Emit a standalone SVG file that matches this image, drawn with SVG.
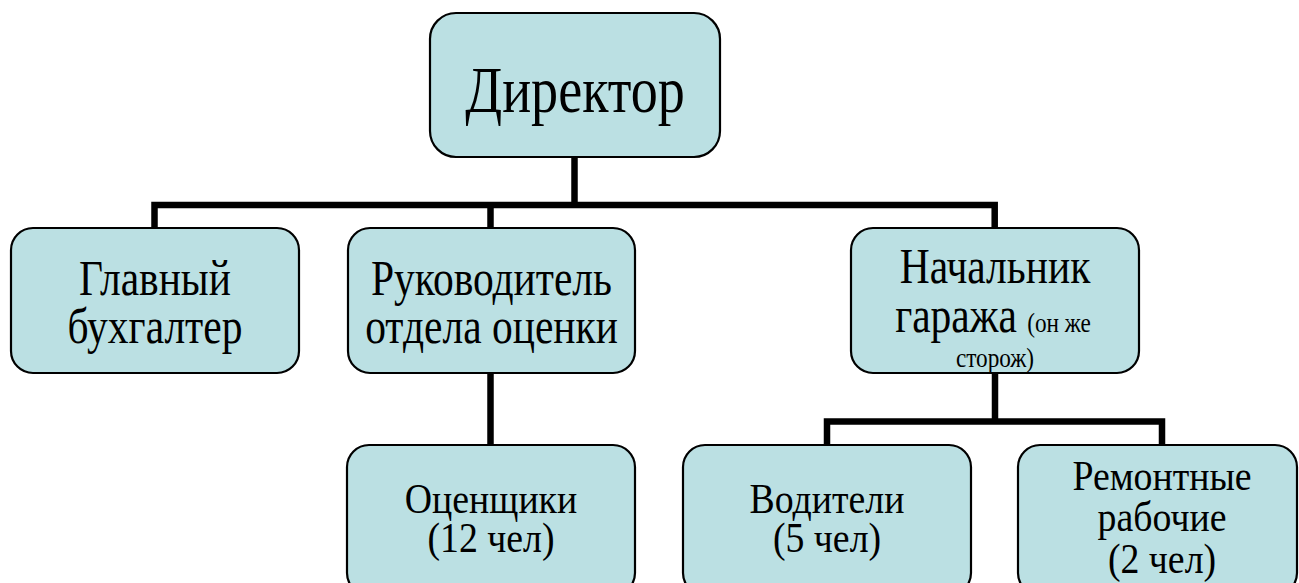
<svg xmlns="http://www.w3.org/2000/svg" width="1299" height="583" viewBox="0 0 1299 583">
<style>
.box{fill:#BBE0E3;stroke:#000;stroke-width:2.2}
.t{font-family:"Liberation Serif","Times New Roman","DejaVu Serif",serif;fill:#000;text-anchor:middle}
.conn{fill:none;stroke:#000;stroke-width:6.5;stroke-linejoin:miter;stroke-linecap:butt}
</style>
<rect x="0" y="0" width="1299" height="583" fill="#fff"/>
<g id="connectors">
<path class="conn" d="M574.5 157 V205"/>
<path class="conn" d="M154.5 228 V205 H994.7 V228"/>
<path class="conn" d="M490.5 205 V228"/>
<path class="conn" d="M490.5 373 V445"/>
<path class="conn" d="M995 373 V421.5"/>
<path class="conn" d="M827 445 V421.5 H1162 V445"/>
</g>
<g id="director">
<rect class="box" x="430" y="13" width="290" height="144" rx="26"/>
<text class="t" font-family="Liberation Serif, serif" font-size="66" transform="translate(575,112) scale(0.82,1)">Директор</text>
</g>
<g id="chief-accountant">
<rect class="box" x="11" y="228" width="288" height="145" rx="22"/>
<text class="t" font-family="Liberation Serif, serif" font-size="50" transform="translate(155,295) scale(0.83,1)">Главный</text>
<text class="t" font-family="Liberation Serif, serif" font-size="50" transform="translate(155,343) scale(0.83,1)">бухгалтер</text>
</g>
<g id="head-appraisal">
<rect class="box" x="348" y="228" width="287" height="145" rx="22"/>
<text class="t" font-family="Liberation Serif, serif" font-size="50" transform="translate(491.5,295) scale(0.83,1)">Руководитель</text>
<text class="t" font-family="Liberation Serif, serif" font-size="50" transform="translate(491.5,343) scale(0.83,1)">отдела оценки</text>
</g>
<g id="garage-head">
<rect class="box" x="851" y="228" width="288" height="145" rx="22"/>
<text class="t" font-family="Liberation Serif, serif" font-size="50" transform="translate(995,283) scale(0.83,1)">Начальник</text>
<text class="t" font-family="Liberation Serif, serif" font-size="50" transform="translate(993,332) scale(0.83,1)">гаража <tspan font-size="28">(он же</tspan></text>
<text class="t" font-family="Liberation Serif, serif" font-size="28" transform="translate(995,367) scale(0.83,1)">сторож)</text>
</g>
<g id="appraisers">
<rect class="box" x="347" y="445" width="288" height="150" rx="22"/>
<text class="t" font-family="Liberation Serif, serif" font-size="42" transform="translate(491,513) scale(0.9,1)">Оценщики</text>
<text class="t" font-family="Liberation Serif, serif" font-size="42" transform="translate(491,552) scale(0.9,1)">(12 чел)</text>
</g>
<g id="drivers">
<rect class="box" x="683" y="445" width="288" height="150" rx="22"/>
<text class="t" font-family="Liberation Serif, serif" font-size="42" transform="translate(827,513) scale(0.9,1)">Водители</text>
<text class="t" font-family="Liberation Serif, serif" font-size="42" transform="translate(827,552) scale(0.9,1)">(5 чел)</text>
</g>
<g id="repair-workers">
<rect class="box" x="1018" y="445" width="279" height="150" rx="22"/>
<text class="t" font-family="Liberation Serif, serif" font-size="42" transform="translate(1162,490) scale(0.9,1)">Ремонтные</text>
<text class="t" font-family="Liberation Serif, serif" font-size="42" transform="translate(1162,531) scale(0.9,1)">рабочие</text>
<text class="t" font-family="Liberation Serif, serif" font-size="42" transform="translate(1162,573) scale(0.9,1)">(2 чел)</text>
</g>
</svg>
